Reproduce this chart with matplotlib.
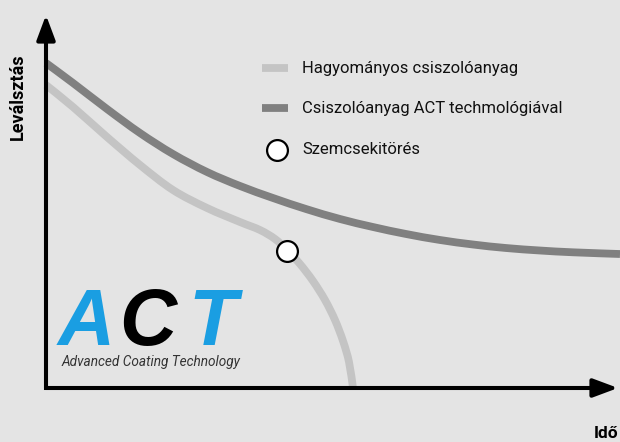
import matplotlib
matplotlib.use('Agg')
import matplotlib.pyplot as plt
from matplotlib import font_manager
from matplotlib.lines import Line2D
from matplotlib.path import Path
from matplotlib.patches import PathPatch

# ---------------- data ----------------
# x: time (0..100 along the axis), y: removal (0..100 along the axis)
act_x = [0, 4.74, 10.70, 16.49, 22.28, 28.25, 34.04, 39.82, 45.61, 51.58,
         57.37, 63.16, 69.12, 74.91, 80.70, 86.67, 92.46, 100.7]
act_y = [87.13, 81.77, 74.80, 68.36, 62.73, 57.91, 54.16, 50.94, 47.99, 45.31,
         43.16, 41.29, 39.68, 38.47, 37.53, 36.86, 36.38, 35.92]

conv_x = [0, 4.74, 10.70, 16.49, 22.28, 28.25, 34.04, 37.54, 40.18, 42.28,
          44.56, 46.84, 48.95, 50.70, 52.11, 53.16, 53.86]
conv_y = [81.23, 75.34, 67.29, 59.79, 53.08, 48.26, 44.50, 42.36, 39.95, 37.0,
          33.24, 28.69, 23.59, 18.23, 12.60, 6.97, 0]

break_x = [42.28]
break_y = [36.73]

legend_labels = ['Hagyományos csiszolóanyag',
                 'Csiszolóanyag ACT techmológiával',
                 'Szemcsekitörés']
y_label = 'Leválsztás'
x_label = 'Idő'
logo_letters = ['A', 'C', 'T']
logo_sub = 'Advanced Coating Technology'

# ---------------- styling ----------------
names = {f.name for f in font_manager.fontManager.ttflist}
def pick(cands):
    for c in cands:
        if c in names:
            return c
    return 'DejaVu Sans'

FONT = pick(['Roboto', 'Open Sans', 'Noto Sans', 'Liberation Sans'])
LOGO_FONT = pick(['Liberation Sans', 'DejaVu Sans'])
plt.rcParams['font.family'] = [FONT, 'DejaVu Sans']

BG = '#e4e4e4'
LIGHT = '#c4c4c4'
DARK = '#808080'
BLUE = '#1a9ee2'

W, H = 620, 442
fig = plt.figure(figsize=(W / 100, H / 100), dpi=100)
fig.patch.set_facecolor(BG)
ax = fig.add_axes([0, 0, 1, 1])
ax.set_facecolor(BG)
ax.axis('off')

# pixel mapping of data: px = X0 + SX*x ; py = Y0 - SY*y
X0, SX, Y0, SY = 46, 5.7, 388, 3.73
ax.set_xlim(-X0 / SX, (W - X0) / SX)
ax.set_ylim(-(H - Y0) / SY, Y0 / SY)

def fx(px):
    return px / W

def fy(py):
    return 1 - py / H


def smooth_path(xs, ys):
    """Catmull-Rom curve through the given points, as cubic Bezier segments."""
    pts = list(zip(xs, ys))
    n = len(pts)
    verts = [pts[0]]
    codes = [Path.MOVETO]
    for i in range(n - 1):
        p0 = pts[i - 1] if i > 0 else pts[i]
        p1 = pts[i]
        p2 = pts[i + 1]
        p3 = pts[i + 2] if i + 2 < n else pts[i + 1]
        c1 = (p1[0] + (p2[0] - p0[0]) / 6, p1[1] + (p2[1] - p0[1]) / 6)
        c2 = (p2[0] - (p3[0] - p1[0]) / 6, p2[1] - (p3[1] - p1[1]) / 6)
        verts += [c1, c2, p2]
        codes += [Path.CURVE4] * 3
    return Path(verts, codes)


lw_curve = 5.6
for xs, ys, col in [(conv_x, conv_y, LIGHT), (act_x, act_y, DARK)]:
    ax.add_patch(PathPatch(smooth_path(xs, ys), facecolor='none', edgecolor=col,
                           lw=lw_curve, capstyle='butt', joinstyle='round', zorder=2))
ax.plot(break_x, break_y, 'o', ms=15, mfc='white', mec='black', mew=1.6, zorder=4)

# axes with arrows
x_end = 100.35
y_end = 100.0
ax.plot([0, 0, x_end - 3], [y_end - 5, 0, 0], color='black', lw=2.9,
        solid_joinstyle='miter', solid_capstyle='butt', zorder=5)
for tip in [(0, y_end), (x_end, 0)]:
    ax.annotate('', xy=tip, xytext=(0, 0),
                arrowprops=dict(arrowstyle='-|>,head_length=0.75,head_width=0.28',
                                color='black', lw=2.9, shrinkA=0, shrinkB=0,
                                mutation_scale=20),
                zorder=5)

# axis labels
fig.text(fx(18), fy(97), y_label, rotation=90, ha='center', va='center',
         fontsize=13, fontweight='bold', color='black')
fig.text(fx(618), fy(433), x_label, ha='right', va='center',
         fontsize=12.5, fontweight='bold', color='black')

# legend (manual)
leg_rows = [68, 108, 150]
for lab, py, kind in zip(legend_labels, leg_rows, ['light', 'dark', 'circle']):
    if kind == 'circle':
        fig.add_artist(Line2D([fx(277)], [fy(py)], marker='o', ms=15,
                              mfc='white', mec='black', mew=1.6,
                              transform=fig.transFigure))
    else:
        fig.add_artist(Line2D([fx(262), fx(288)], [fy(py), fy(py)],
                              color=LIGHT if kind == 'light' else DARK,
                              lw=5.6, solid_capstyle='butt',
                              transform=fig.transFigure))
    fig.text(fx(302), fy(py), lab, ha='left', va='center', fontsize=12,
             color='#111111')

# ACT logo
logo_cols = [BLUE, 'black', BLUE]
logo_px = [58, 119, 188]
for ch, col, px in zip(logo_letters, logo_cols, logo_px):
    fig.text(fx(px), fy(345), ch, ha='left', va='baseline', fontsize=57,
             fontweight='bold', fontstyle='italic', family=LOGO_FONT, color=col)
fig.text(fx(62), fy(362), logo_sub, ha='left', va='center', fontsize=9.8,
         fontstyle='italic', color='#333333')

fig.savefig('out.png', dpi=100, facecolor=BG)
